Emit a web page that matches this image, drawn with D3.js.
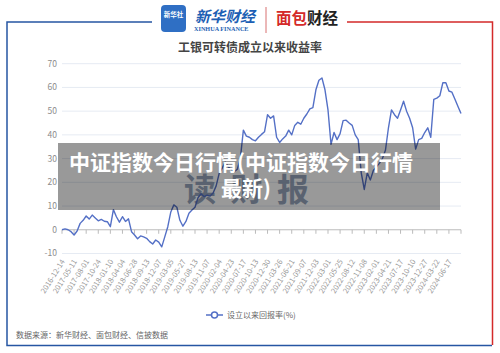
<!DOCTYPE html>
<html>
<head>
<meta charset="utf-8">
<script src="https://cdn.jsdelivr.net/npm/d3@7"></script>
<style>
body { margin: 0; background: #fff; }
svg { display: block; font-family: "Noto Sans CJK SC", "Noto Sans", sans-serif; }
</style>
</head>
<body>
<div class="container"></div>
<script>
// category labels, one every 4 points
var tickLabels = ["2016-12-14","2017-05-11","2017-08-01","2017-10-24","2018-01-10","2018-04-04",
    "2018-06-28","2018-09-13","2018-12-07","2019-03-05","2019-05-27","2019-08-13","2019-11-07",
    "2020-02-04","2020-04-23","2020-07-17","2020-10-13","2020-12-30","2021-03-26","2021-06-21",
    "2021-09-07","2021-12-03","2022-03-01","2022-05-25","2022-08-12","2022-11-08","2023-02-01",
    "2023-04-21","2023-07-17","2023-10-10","2023-12-27","2024-03-22","2024-06-17"];
var labelEvery = 4;

// 设立以来回报率(%)
var returns = [0, 0.4, 0, -0.8, -2.2, -0.5, 2.7, 4, 5.8, 4.5,
    6.2, 5, 3.8, 4.4, 3.6, 3.4, 1.3, 8.5, 5.5, 3.2,
    5.5, 3.5, 4.6, -0.8, -2.2, -3.8, -2.6, -3, -3.6, -5,
    -6, -4.3, -5.2, -7.2, -3, 1.3, 7.5, 10.5, 9.5, 4,
    1.5, 3.5, 7, 8.3, 9.5, 13.5, 15.2, 14, 14.6, 14.2,
    15.5, 18.5, 23.8, 26, 28.5, 26.5, 25.5, 24.5, 25.5, 30,
    42, 39.5, 39, 38, 37.5, 39, 40.2, 41.3, 48.5, 47,
    48, 39, 36.8, 38.3, 39.5, 42, 40, 44, 45.3, 44.5,
    47, 48.8, 51, 51.5, 59, 63, 64, 59, 50.5, 36,
    41, 38, 40.5, 46, 46.2, 45, 44, 40, 38, 24,
    17, 24, 21, 25, 26.5, 28, 30, 33.5, 43, 50.5,
    48.5, 47, 50.5, 54.2, 50, 47, 43, 34, 38, 38.5,
    41, 43, 39, 55, 55.5, 56.5, 62, 62, 58.5, 58,
    55, 52, 49];

var yTicks = [-10, 0, 10, 20, 30, 40, 50, 60, 70];

var width = 500;
var height = 353;
var blue = "#2656a3";
var red = "#d42a2a";
var lineColor = "#5470c6";

var svg = d3.select(".container")
    .append("svg")
    .attr("width", width)
    .attr("height", height);

var x = d3.scaleLinear().domain([0, returns.length - 1]).range([62, 461]);
var y = d3.scaleLinear().domain([-10, 70]).range([253.5, 63.7]);

// frame
svg.append("path")
    .attr("d", "M152,22H7V345.5H492")
    .attr("fill", "none").attr("stroke", blue).attr("stroke-width", 1.5);
svg.append("path")
    .attr("d", "M347,22H492.5V345")
    .attr("fill", "none").attr("stroke", red).attr("stroke-width", 1.5);

// logos
svg.append("rect")
    .attr("x", 161).attr("y", 5).attr("width", 25).attr("height", 27).attr("rx", 4)
    .attr("fill", "#2f6fc4");
svg.append("text")
    .attr("x", 173.5).attr("y", 17).attr("text-anchor", "middle")
    .attr("font-size", 6.5).attr("font-weight", "bold").attr("fill", "#fff")
    .text("新华社");
svg.append("text")
    .attr("x", 195).attr("y", 22)
    .attr("font-size", 15).attr("font-weight", "bold").attr("font-style", "italic")
    .attr("fill", "#1d5fb4")
    .text("新华财经");
svg.append("text")
    .attr("x", 194).attr("y", 31)
    .attr("font-family", "Liberation Serif").attr("font-size", 6.2).attr("font-weight", "bold")
    .attr("fill", "#1d5fb4")
    .text("XINHUA FINANCE");
svg.append("line")
    .attr("x1", 266).attr("x2", 266).attr("y1", 7).attr("y2", 33)
    .attr("stroke", "#d87070").attr("stroke-width", 1);
var brand = svg.append("text")
    .attr("x", 276).attr("y", 24)
    .attr("font-size", 15.5).attr("font-weight", "bold");
brand.append("tspan").attr("fill", red).text("面包");
brand.append("tspan").attr("fill", "#222").text("财经");

// title
svg.append("text")
    .attr("x", 250).attr("y", 52).attr("text-anchor", "middle")
    .attr("font-size", 12).attr("font-weight", "bold").attr("fill", "#444")
    .text("工银可转债成立以来收益率");

// grid + y labels
svg.append("g").selectAll("line")
    .data(yTicks.filter(function(d) { return d !== 0; }))
    .join("line")
    .attr("x1", 62).attr("x2", 461)
    .attr("y1", function(d) { return y(d); })
    .attr("y2", function(d) { return y(d); })
    .attr("stroke", "#e6ebf3").attr("stroke-width", 1);

svg.append("g").selectAll("text")
    .data(yTicks)
    .join("text")
    .attr("x", 57)
    .attr("y", function(d) { return y(d); })
    .attr("dy", "0.35em")
    .attr("text-anchor", "end")
    .attr("font-size", 8.5).attr("fill", "#8c8c8c")
    .text(function(d) { return d; });

// watermark
svg.append("g").selectAll("text")
    .data(["读", "财", "报"])
    .join("text")
    .attr("x", function(d, i) { return 200 + i * 46.5; })
    .attr("y", 201)
    .attr("text-anchor", "middle")
    .attr("font-size", 32).attr("font-weight", "bold")
    .attr("fill", "#8495b0").attr("opacity", 0.85)
    .text(function(d) { return d; });

// x axis on zero
var tickIdx = tickLabels.map(function(d, i) { return i * labelEvery; });
tickIdx.push(returns.length - 1);
svg.append("line")
    .attr("x1", 62).attr("x2", 461)
    .attr("y1", y(0)).attr("y2", y(0))
    .attr("stroke", "#bbb").attr("stroke-width", 1);
svg.append("g").selectAll("line")
    .data(tickIdx)
    .join("line")
    .attr("x1", function(d) { return x(d); })
    .attr("x2", function(d) { return x(d); })
    .attr("y1", y(0)).attr("y2", y(0) + 4)
    .attr("stroke", "#bbb");

svg.append("g").selectAll("text")
    .data(tickLabels)
    .join("text")
    .attr("transform", function(d, i) { return "translate(" + (x(i * labelEvery) + 1) + ",260) rotate(-58)"; })
    .attr("text-anchor", "end")
    .attr("dy", "0.35em")
    .attr("font-size", 7.5).attr("fill", "#999")
    .text(function(d) { return d; });

// the line
var line = d3.line()
    .x(function(d, i) { return x(i); })
    .y(function(d) { return y(d); });
svg.append("path")
    .datum(returns)
    .attr("d", line)
    .attr("fill", "none")
    .attr("stroke", lineColor)
    .attr("stroke-width", 1.4)
    .attr("stroke-linejoin", "round");

// legend
svg.append("line")
    .attr("x1", 206).attr("x2", 223).attr("y1", 315).attr("y2", 315)
    .attr("stroke", lineColor).attr("stroke-width", 1.5);
svg.append("circle")
    .attr("cx", 214.5).attr("cy", 315).attr("r", 3)
    .attr("fill", "#fff").attr("stroke", lineColor).attr("stroke-width", 1.5);
svg.append("text")
    .attr("x", 227).attr("y", 315).attr("dy", "0.35em")
    .attr("font-size", 8).attr("fill", "#666")
    .text("设立以来回报率(%)");

// source
svg.append("text")
    .attr("x", 16).attr("y", 335).attr("dy", "0.35em")
    .attr("font-size", 8).attr("fill", "#666")
    .text("数据来源：新华财经、面包财经、信披数据");

// headline overlay
svg.append("rect")
    .attr("x", 58).attr("y", 143).attr("width", 382).attr("height", 67)
    .attr("fill", "rgba(0,0,0,0.4)");
svg.append("text")
    .attr("x", 241).attr("y", 170).attr("text-anchor", "middle")
    .attr("font-size", 21).attr("font-weight", "bold").attr("fill", "#fff")
    .text("中证指数今日行情(中证指数今日行情");
svg.append("text")
    .attr("x", 246).attr("y", 196).attr("text-anchor", "middle")
    .attr("font-size", 21).attr("font-weight", "bold").attr("fill", "#fff")
    .text("最新)");
</script>
</body>
</html>
